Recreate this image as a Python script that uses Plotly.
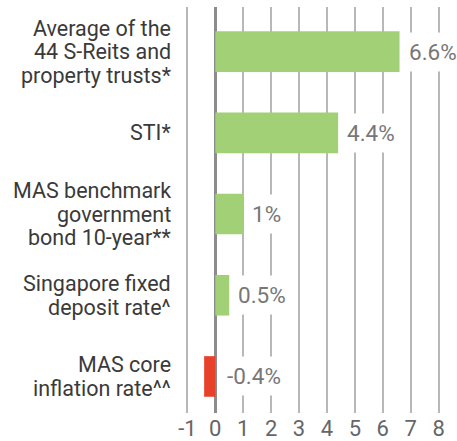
import plotly.graph_objects as go

categories = [
    "Average of the<br>44 S-Reits and<br>property trusts*",
    "STI*",
    "MAS benchmark<br>government<br>bond 10-year**",
    "Singapore fixed<br>deposit rate^",
    "MAS core<br>inflation rate^^",
]
values = [6.6, 4.4, 1.0, 0.5, -0.4]
value_labels = ["6.6%", "4.4%", "1%", "0.5%", "-0.4%"]
tick_vals = [-1, 0, 1, 2, 3, 4, 5, 6, 7, 8]

GREEN = "#a2d077"
RED = "#e8412a"
colors = [GREEN if v >= 0 else RED for v in values]

FONT = "Roboto"
LINE_STEP = 23.5

fig = go.Figure()
fig.add_trace(go.Bar(
    y=categories,
    x=values,
    orientation="h",
    marker=dict(color=colors, line=dict(width=0)),
    width=0.5,
    hoverinfo="skip",
))

# value labels (white background breaks the gridlines)
for cat, v, lab in zip(categories, values, value_labels):
    fig.add_annotation(
        x=max(v, 0), y=cat, xref="x", yref="y",
        text=lab, showarrow=False, xanchor="left", yanchor="middle",
        xshift=2 if v >= 0 else 5,
        font=dict(family=FONT, size=22.5, color="#777777"),
        bgcolor="white", borderpad=6,
    )

# category labels, one annotation per line for tight leading
for cat in categories:
    lines = cat.split("<br>")
    n = len(lines)
    for i, line in enumerate(lines):
        fig.add_annotation(
            x=0, xref="paper", y=cat, yref="y",
            text=line, showarrow=False, xanchor="right", yanchor="middle",
            xshift=-13, yshift=((n - 1) / 2 - i) * LINE_STEP,
            font=dict(family=FONT, size=21.5, color="#3a3a3a"),
        )

fig.update_layout(
    width=457, height=441,
    margin=dict(l=186, r=17, t=7, b=28, autoexpand=False),
    plot_bgcolor="white", paper_bgcolor="white",
    showlegend=False,
    bargap=0.5,
    hovermode=False,
    xaxis=dict(
        range=[-1.05, 8.05],
        tickvals=tick_vals,
        ticktext=[str(t) for t in tick_vals],
        showgrid=True, gridcolor="#b8b8b8", gridwidth=1.5,
        zeroline=True, zerolinecolor="#8c8c8c", zerolinewidth=2.5,
        showline=False, ticks="",
        tickfont=dict(family=FONT, size=22, color="#666666"),
        automargin=False,
        fixedrange=True,
    ),
    yaxis=dict(
        range=[4.45, -0.55],
        showgrid=False, zeroline=False, showline=False, ticks="",
        showticklabels=False,
        automargin=False,
        fixedrange=True,
    ),
)

# remove the browser's default 8px body margin so the figure sits at (0, 0)
fig.write_html(
    "out.html",
    config={"displayModeBar": False},
    post_script="document.body.style.margin='0';document.body.style.overflow='hidden';",
)
